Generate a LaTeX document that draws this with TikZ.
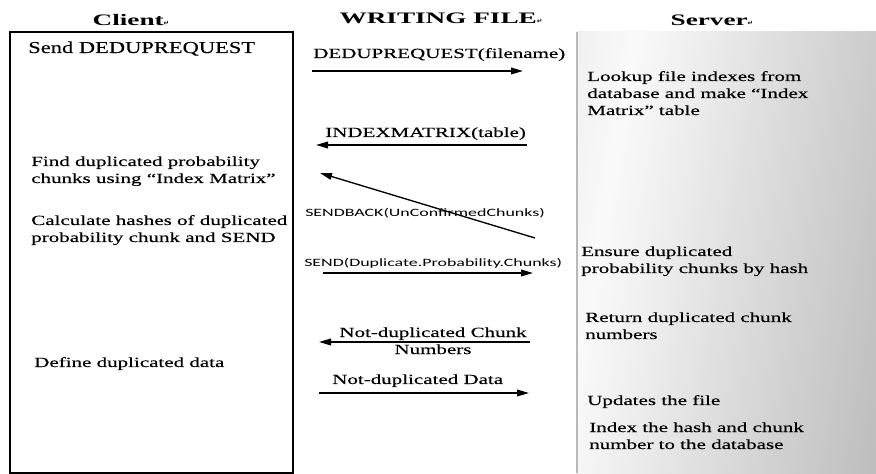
\documentclass[tikz,border=0pt]{standalone}
\usepackage{fontspec}
\setmainfont{Liberation Serif}[FakeStretch=1.5,FakeBold=0.35]
\newfontfamily\sendfont{Liberation Serif}[FakeStretch=1.35,FakeBold=0.35]
\newfontfamily\headfont{Liberation Serif}[FakeStretch=1.7]
\newfontfamily\msgfont{Carlito}[FakeStretch=1.6]
\newfontfamily\symfont{DejaVu Sans}
\usetikzlibrary{arrows.meta,positioning,calc}

\newcommand{\parmark}{{\symfont\fontsize{5}{5}\selectfont ↵}}
\pgfdeclarehorizontalshading{srvshade}{100bp}{color(0bp)=(gray!30); color(30bp)=(white!96!gray); color(100bp)=(gray!72)}

\begin{document}
\begin{tikzpicture}[x=0.75pt,y=-0.75pt,
    txt/.style={anchor=base west,inner sep=0pt,align=left,font=\fontsize{10.5}{12.75}\selectfont},
    head/.style={anchor=base,inner sep=0pt,font=\headfont\bfseries\fontsize{12}{14}\selectfont},
    msgtxt/.style={anchor=base west,inner sep=0pt,font=\msgfont\fontsize{8.4}{10}\selectfont},
    msg/.style={line width=1.2pt,-{Triangle[length=9pt,width=5pt]}}]
    \useasboundingbox (0,0) rectangle (876,474);

    % Server side
    \shade[shading=srvshade,shading angle=-10] (577,32) rectangle (876,473);
    \draw[gray!55,line width=1pt] (577,32) -- (577,473);

    % Client side
    \draw[line width=1.5pt] (10,32) rectangle (293,473);

    % Headers
    \node[head] (client) at (131,26) {Client\parmark};
    \node[head] (writing) at (441,24) {WRITING FILE\parmark};
    \node[head] (server) at (712,26) {Server\parmark};

    % Client steps (base = last line)
    \node[txt,font=\sendfont\fontsize{12.5}{14}\selectfont] (send) at (28,53) {Send DEDUPREQUEST};
    \node[txt] (find) at (31,183) {Find duplicated probability\\chunks using “Index Matrix”};
    \node[txt] (calc) at (31,242) {Calculate hashes of duplicated\\probability chunk and SEND};
    \node[txt] (define) at (34,367) {Define duplicated data};

    % Server steps
    \node[txt] (lookup) at (587,115) {Lookup file indexes from\\database and make “Index\\Matrix” table};
    \node[txt] (ensure) at (581,273) {Ensure duplicated\\probability chunks by hash};
    \node[txt] (return) at (585,339) {Return duplicated chunk\\numbers};
    \node[txt] (update) at (587,405) {Updates the file};
    \node[txt] (index) at (589,449) {Index the hash and chunk\\number to the database};

    % Messages
    \node[txt] (dreq) at (313,58) {DEDUPREQUEST(filename)};
    \coordinate (dreq-s) at (312,71);
    \coordinate (dreq-e) at (523,71);
    \draw[msg] (dreq-s) -- (dreq-e);

    \node[txt] (imat) at (325,137) {INDEXMATRIX(table)};
    \coordinate (imat-s) at (527,145);
    \coordinate (imat-e) at (316,145);
    \draw[msg] (imat-s) -- (imat-e);

    \coordinate (back-s) at (535,238);
    \coordinate (back-e) at (320,173);
    \draw[line width=1pt,-{Triangle[length=9pt,width=5pt]}] (back-s) -- (back-e);
    \node[msgtxt] (back) at (305,217) {SENDBACK(UnConfirmedChunks)};

    \node[msgtxt] (sendmsg) at (304,267) {SEND(Duplicate.Probability.Chunks)};
    \coordinate (sendmsg-s) at (323,273);
    \coordinate (sendmsg-e) at (533,273);
    \draw[msg] (sendmsg-s) -- (sendmsg-e);

    \node[txt,align=center,anchor=base] (ndcn) at (433,354) {Not-duplicated Chunk\\Numbers};
    \coordinate (ndcn-s) at (530,342);
    \coordinate (ndcn-e) at (319,342);
    \draw[msg] (ndcn-s) -- (ndcn-e);

    \node[txt] (ndd) at (332,384) {Not-duplicated Data};
    \coordinate (ndd-s) at (319,393);
    \coordinate (ndd-e) at (529,393);
    \draw[msg] (ndd-s) -- (ndd-e);
\end{tikzpicture}
\end{document}
